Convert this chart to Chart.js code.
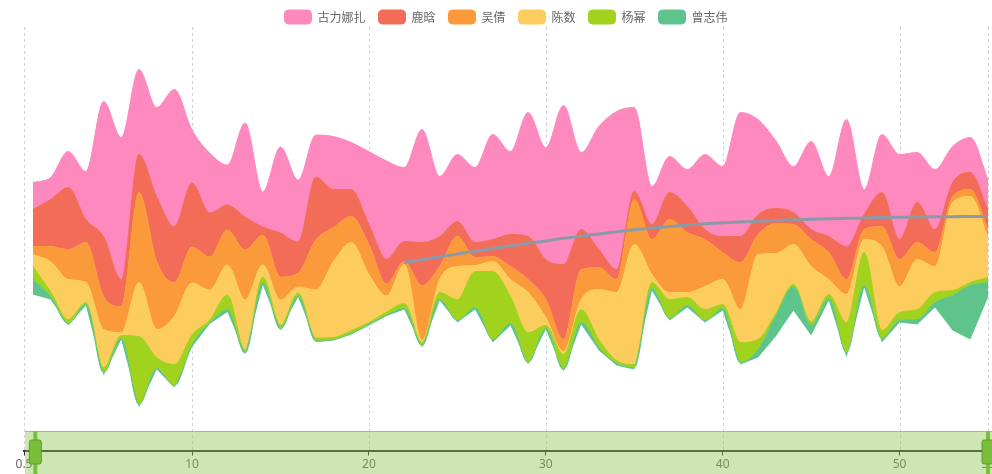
<!DOCTYPE html>
<html>
<head>
<meta charset="utf-8">
<script src="https://cdn.jsdelivr.net/npm/chart.js@4.4.1/dist/chart.umd.min.js"></script>
<style>
html,body{margin:0;padding:0;background:#ffffff;}
#wrap{width:992px;height:474px;position:relative;overflow:hidden;}
</style>
</head>
<body>
<div id="wrap"><canvas id="c" width="992" height="474"></canvas></div>
<script>
// ---- data ----
const days = [1,2,3,4,5,6,7,8,9,10,11,12,13,14,15,16,17,18,19,20,21,22,23,24,25,26,27,28,29,30,31,32,33,34,35,36,37,38,39,40,41,42,43,44,45,46,47,48,49,50,51,52,53,54,55];
const seriesNames = ['古力娜扎','鹿晗','吴倩','陈数','杨幂','曾志伟'];
const guliNazha = [27,22,36,48,135,142,85,89,137,53,60,40,94,35,86,62,42,53,47,73,98,74,113,60,67,75,105,83,124,112,159,77,123,158,84,38,36,37,75,70,124,95,68,46,88,60,127,25,58,85,50,60,36,35,30];
const luHan     = [37,47,62,23,60,27,38,65,56,64,44,25,33,8,44,31,63,38,27,20,25,20,43,30,15,15,17,32,43,40,75,40,18,10,8,15,27,26,10,16,26,20,15,12,10,16,33,15,34,20,40,23,14,17,20];
const wuQian    = [8,15,30,40,33,26,90,68,34,36,33,35,50,30,23,14,50,34,26,30,12,3,55,13,30,8,5,13,13,18,12,30,22,13,45,35,73,60,47,27,47,20,30,20,27,27,15,10,20,27,17,14,6,7,8];
const chenShu   = [12,30,40,20,38,3,54,28,48,52,30,30,50,12,25,6,48,76,88,48,16,39,2,13,33,6,10,17,40,8,3,10,50,68,120,8,7,5,23,25,33,85,60,40,55,15,28,13,84,26,50,26,88,86,40];
const yangMi    = [13,5,4,2,5,3,68,11,21,10,3,15,3,6,4,3,3,2,3,2,3,5,3,7,21,36,68,27,30,3,15,13,8,3,3,6,19,8,11,4,20,10,3,2,4,4,30,33,8,8,10,10,5,3,5];
const zengZhiwei= [15,3,2,1,3,1,3,1,2,2,1,2,1,2,1,1,1,1,1,1,1,1,2,1,2,2,3,2,2,1,2,2,3,2,2,2,2,2,2,2,2,8,20,24,10,2,5,2,4,2,5,5,35,54,15];
const trendDays = [22,23,24,25,26,27,28,29,30,31,32,33,34,35,36,37,38,39,40,41,42,43,44,45,46,47,48,49,50,51,52,53,54,55];
const trendValues = [-24,-21.1,-18.2,-15.4,-12.6,-9.9,-7.3,-4.8,-2.4,0.2,2.4,4.6,6.8,8.8,10.6,12.1,13.5,14.7,15.7,16.6,17.4,18.1,18.7,19.3,19.8,20.2,20.6,21.0,21.3,21.5,21.7,21.9,22.0,22.1];
const xTickValues = [0.5,10,20,30,40,50,55];

// ---- styles ----
const layerColors = ['#fd89bf','#f26c58','#fb9a3a','#fccc5c','#a0d21e','#5ec48c'];
const layers = [guliNazha, luHan, wuQian, chenShu, yangMi, zengZhiwei]; // top -> bottom

// centred (silhouette) baseline built from the series
const baseline = days.map((d, i) => -layers.reduce((s, arr) => s + arr[i], 0) / 2);
const pts = arr => days.map((d, i) => ({x: d, y: arr[i]}));

const datasets = [];
datasets.push({
  label: 'trend', data: trendDays.map((d, i) => ({x: d, y: trendValues[i]})),
  stack: 'trend', borderColor: '#8c9aa7', borderWidth: 3, fill: false,
  pointRadius: 0, tension: 0.4, cubicInterpolationMode: 'monotone'
});
datasets.push({
  label: '_base', data: pts(baseline), stack: 's', borderWidth: 0,
  pointRadius: 0, fill: false, showLine: false
});
for (let k = layers.length - 1; k >= 0; k--) {
  datasets.push({
    label: seriesNames[k], data: pts(layers[k]), stack: 's',
    backgroundColor: layerColors[k], borderColor: layerColors[k], borderWidth: 1,
    fill: '-1', pointRadius: 0, tension: 0.4, cubicInterpolationMode: 'monotone'
  });
}

const decor = {
  id: 'decor',
  beforeDatasetsDraw(chart) {
    const {ctx, chartArea, scales: {x}} = chart;
    ctx.save();
    ctx.strokeStyle = '#d2d2d2';
    ctx.lineWidth = 1;
    ctx.setLineDash([3, 3]);
    x.ticks.forEach(t => {
      const px = Math.round(x.getPixelForValue(t.value)) + 0.5;
      ctx.beginPath(); ctx.moveTo(px, 27); ctx.lineTo(px, chartArea.bottom); ctx.stroke();
    });
    ctx.restore();
  },
  afterDraw(chart) {
    const {ctx, chartArea, scales: {x}} = chart;
    const W = chart.width, H = chart.height;
    const top = 431;
    ctx.save();
    ctx.fillStyle = 'rgba(135,195,75,0.42)';
    ctx.fillRect(chartArea.left + 1, top, W - chartArea.left - 1, H - top);
    ctx.strokeStyle = 'rgba(160,170,150,0.8)';
    ctx.lineWidth = 1;
    ctx.beginPath(); ctx.moveTo(chartArea.left + 1, top + 0.5); ctx.lineTo(W, top + 0.5); ctx.stroke();
    const handle = (cx) => {
      ctx.fillStyle = '#7abf3a';
      ctx.fillRect(cx - 2, top, 4, H - top);
      ctx.beginPath();
      if (ctx.roundRect) ctx.roundRect(cx - 6, top + 9, 12, 24, 2); else ctx.rect(cx - 6, top + 9, 12, 24);
      ctx.fill();
      ctx.strokeStyle = 'rgba(90,150,40,0.9)';
      ctx.stroke();
    };
    handle(x.getPixelForValue(days[0]) + 2.5);
    handle(x.getPixelForValue(days[days.length - 1]));
    ctx.restore();
  }
};

new Chart(document.getElementById('c'), {
  type: 'line',
  data: {datasets},
  plugins: [decor],
  options: {
    responsive: false,
    devicePixelRatio: 1,
    animation: false,
    events: [],
    layout: {padding: {top: -3, left: 24, right: 4, bottom: 0}},
    plugins: {
      tooltip: {enabled: false},
      legend: {
        display: true, position: 'top', align: 'center', reverse: true,
        labels: {
          filter: item => item.datasetIndex >= 2,
          boxWidth: 27, boxHeight: 14, padding: 13,
          useBorderRadius: true, borderRadius: 4,
          color: '#666', font: {size: 12, family: '"Noto Sans CJK SC", "Noto Sans", sans-serif'}
        }
      }
    },
    scales: {
      x: {
        type: 'linear', min: 0.5, max: 55,
        afterBuildTicks: s => { s.ticks = xTickValues.map(v => ({value: v})); },
        afterFit: s => { s.paddingLeft = 0; s.paddingRight = 0; },
        ticks: {
          padding: 2, color: '#666', maxRotation: 0, autoSkip: false,
          font: {size: 12, family: '"Noto Sans", sans-serif'},
          callback: v => String(v)
        },
        grid: {drawOnChartArea: false, drawTicks: true, tickLength: 5, tickColor: '#333', tickWidth: 1},
        border: {display: true, color: '#333', width: 2}
      },
      y: {
        display: false, stacked: 'single', min: -212, max: 204.5
      }
    }
  }
});
</script>
</body>
</html>
